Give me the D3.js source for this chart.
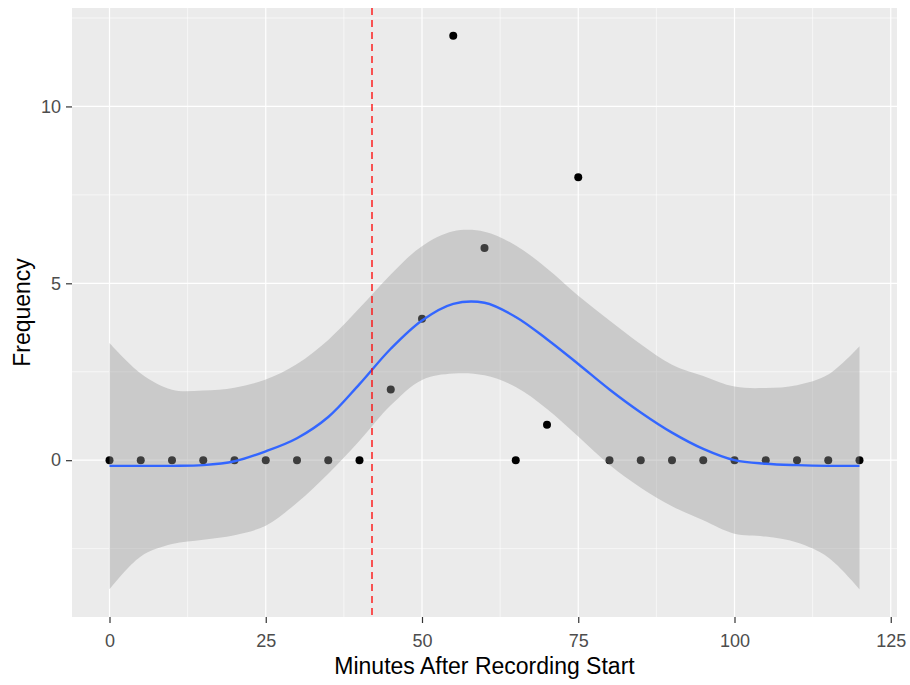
<!DOCTYPE html>
<html>
<head>
<meta charset="utf-8">
<script src="https://cdn.jsdelivr.net/npm/d3@7"></script>
<style>
  body { margin: 0; background: #fff; }
  text { font-family: "Liberation Sans", Arial, sans-serif; }
</style>
</head>
<body>
<div class="container"></div>
<script>
// observed counts every 5 minutes
var minutes = [0,5,10,15,20,25,30,35,40,45,50,55,60,65,70,75,80,85,90,95,100,105,110,115,120];
var frequency = [0,0,0,0,0,0,0,0,0,2,4,12,6,0,1,8,0,0,0,0,0,0,0,0,0];

// loess fit and 95% band
var fitValues = [-0.16,-0.16,-0.16,-0.14,-0.03,0.25,0.62,1.22,2.15,3.15,3.95,4.42,4.45,4.05,3.42,2.72,2.0,1.35,0.78,0.32,0.0,-0.1,-0.14,-0.16,-0.16];
var lowerBand = [-3.65,-2.72,-2.37,-2.25,-2.12,-1.85,-1.2,-0.38,0.55,1.55,2.27,2.45,2.4,2.07,1.45,0.67,-0.13,-0.78,-1.3,-1.7,-2.08,-2.16,-2.33,-2.75,-3.65];
var upperBand = [3.31,2.45,1.99,1.97,2.05,2.28,2.72,3.4,4.3,5.25,6.05,6.47,6.46,6.07,5.42,4.65,3.95,3.28,2.7,2.38,2.08,2.04,2.12,2.42,3.22];

var cutoffMinute = 42;

var xTicks = [0,25,50,75,100,125];
var xMinor = [12.5,37.5,62.5,87.5,112.5];
var yTicks = [0,5,10];
var yMinor = [-2.5,2.5,7.5,12.5];

var WIDTH = 910, HEIGHT = 685;
var LEFT = 72, RIGHT = 897, TOP = 8, BOTTOM = 617;

var svg = d3.select('.container').append('svg')
  .attr('width', WIDTH)
  .attr('height', HEIGHT);

// ggplot style 5% expansion
var xMin = d3.min(minutes), xMax = d3.max(minutes);
var xPad = (xMax - xMin) * 0.05;
var yMin = d3.min(lowerBand.concat(frequency)), yMax = d3.max(upperBand.concat(frequency));
var yPad = (yMax - yMin) * 0.05;

var xScale = d3.scaleLinear().domain([xMin - xPad, xMax + xPad]).range([LEFT, RIGHT]);
var yScale = d3.scaleLinear().domain([yMin - yPad, yMax + yPad]).range([BOTTOM, TOP]);

svg.append('rect')
  .attr('x', LEFT).attr('y', TOP)
  .attr('width', RIGHT - LEFT).attr('height', BOTTOM - TOP)
  .attr('fill', '#EBEBEB');

var grid = svg.append('g');
grid.selectAll('.xminor').data(xMinor).enter().append('line')
  .attr('x1', function(d){return xScale(d)}).attr('x2', function(d){return xScale(d)})
  .attr('y1', TOP).attr('y2', BOTTOM)
  .attr('stroke', '#fff').attr('stroke-width', 0.6);
grid.selectAll('.yminor').data(yMinor).enter().append('line')
  .attr('y1', function(d){return yScale(d)}).attr('y2', function(d){return yScale(d)})
  .attr('x1', LEFT).attr('x2', RIGHT)
  .attr('stroke', '#fff').attr('stroke-width', 0.6);
grid.selectAll('.xmajor').data(xTicks).enter().append('line')
  .attr('x1', function(d){return xScale(d)}).attr('x2', function(d){return xScale(d)})
  .attr('y1', TOP).attr('y2', BOTTOM)
  .attr('stroke', '#fff').attr('stroke-width', 1.2);
grid.selectAll('.ymajor').data(yTicks).enter().append('line')
  .attr('y1', function(d){return yScale(d)}).attr('y2', function(d){return yScale(d)})
  .attr('x1', LEFT).attr('x2', RIGHT)
  .attr('stroke', '#fff').attr('stroke-width', 1.2);

var pts = minutes.map(function(m, i) {
  return {m: m, f: frequency[i], fit: fitValues[i], lo: lowerBand[i], hi: upperBand[i]};
});

// points first, ribbon goes over them like in ggplot
svg.append('g').selectAll('circle').data(pts).enter().append('circle')
  .attr('cx', function(d){return xScale(d.m)})
  .attr('cy', function(d){return yScale(d.f)})
  .attr('r', 4)
  .attr('fill', '#000');

var band = d3.area()
  .curve(d3.curveCatmullRom)
  .x(function(d){return xScale(d.m)})
  .y0(function(d){return yScale(d.lo)})
  .y1(function(d){return yScale(d.hi)});

svg.append('path').datum(pts)
  .attr('d', band)
  .attr('fill', '#999999')
  .attr('fill-opacity', 0.4);

var fitLine = d3.line()
  .curve(d3.curveCatmullRom)
  .x(function(d){return xScale(d.m)})
  .y(function(d){return yScale(d.fit)});

svg.append('path').datum(pts)
  .attr('d', fitLine)
  .attr('fill', 'none')
  .attr('stroke', '#3366FF')
  .attr('stroke-width', 2.4);

svg.append('line')
  .attr('x1', xScale(cutoffMinute)).attr('x2', xScale(cutoffMinute))
  .attr('y1', TOP).attr('y2', BOTTOM)
  .attr('stroke', '#FF0000').attr('stroke-width', 1.3)
  .attr('stroke-dasharray', '7,5');

// axes
var xAxis = d3.axisBottom(xScale).tickValues(xTicks).tickSize(6).tickPadding(11);
var yAxis = d3.axisLeft(yScale).tickValues(yTicks).tickSize(6).tickPadding(5);

var gx = svg.append('g').attr('transform', 'translate(0,' + BOTTOM + ')').call(xAxis);
var gy = svg.append('g').attr('transform', 'translate(' + LEFT + ',0)').call(yAxis);
[gx, gy].forEach(function(g) {
  g.select('.domain').remove();
  g.selectAll('.tick line').attr('stroke', '#333333').attr('stroke-width', 1.2);
  g.selectAll('.tick text').attr('fill', '#4D4D4D').style('font-size', '18px');
});

svg.append('text')
  .attr('x', (LEFT + RIGHT) / 2).attr('y', 674)
  .attr('text-anchor', 'middle')
  .style('font-size', '23px')
  .attr('fill', '#000')
  .text('Minutes After Recording Start');

svg.append('text')
  .attr('transform', 'translate(30,' + (TOP + BOTTOM) / 2 + ') rotate(-90)')
  .attr('text-anchor', 'middle')
  .style('font-size', '23px')
  .attr('fill', '#000')
  .text('Frequency');
</script>
</body>
</html>
